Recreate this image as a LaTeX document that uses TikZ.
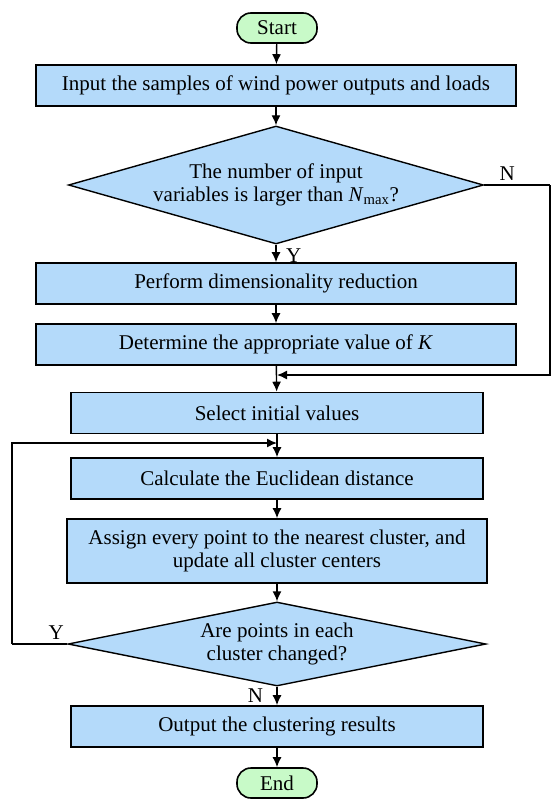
\documentclass[tikz,border=0pt]{standalone}
\usepackage{fontspec}
\setmainfont{Liberation Serif}
\usetikzlibrary{arrows.meta, shapes.geometric, calc}
\definecolor{boxblue}{RGB}{180,218,250}
\definecolor{termgreen}{RGB}{200,250,200}
\tikzset{
    my-box/.style={
        rectangle, draw, line width=1.6pt, fill=boxblue, inner sep=0pt,
        minimum height=41pt, align=center
    },
    my-term/.style={
        rectangle, draw, line width=1.6pt, fill=termgreen, rounded corners=14pt,
        minimum width=80pt, minimum height=30pt, inner sep=0pt
    },
    my-dec/.style={
        diamond, draw, line width=1.4pt, fill=boxblue, inner sep=0pt, align=center
    },
    my-line/.style={
        line width=1.4pt
    },
    my-arrow/.style={
        line width=1.4pt, -{Latex[length=10pt,width=9pt]}
    },
}

\begin{document}
\begin{tikzpicture}[x=1pt, y=-1pt, font=\fontsize{21}{23}\selectfont]

        \useasboundingbox (0,0) rectangle (552,800);

        % TERMINALS
        \node[my-term]  (START)  at (277,28)    {Start};
        \node[my-term]  (END)    at (277,783)   {End};

        % UPPER PART
        \node[my-box, minimum width=480pt]  (INPUT)   at (276,85.5)  {Input the samples of wind power outputs and loads};
        \node[my-dec, minimum width=415pt, minimum height=118pt, aspect=3.5]
                                            (DEC1)    at (276,185)   {The number of input\\variables is larger than \textit{N}\textsubscript{max}?};
        \node[my-box, minimum width=480pt]  (PERFORM) at (276,283.5) {Perform dimensionality reduction};
        \node[my-box, minimum width=480pt]  (DETERM)  at (276,344.5) {Determine the appropriate value of \textit{K}};

        % LOWER PART
        \node[my-box, minimum width=412pt]  (SELECT)  at (277,413)   {Select initial values};
        \node[my-box, minimum width=412pt]  (CALC)    at (277,478.5) {Calculate the Euclidean distance};
        \node[my-box, minimum width=420pt, minimum height=64pt]
                                            (ASSIGN)  at (277,551)   {Assign every point to the nearest cluster, and\\update all cluster centers};
        \node[my-dec, minimum width=418pt, minimum height=84pt, aspect=5]
                                            (DEC2)    at (277,644)   {Are points in each\\cluster changed?};
        \node[my-box, minimum width=412pt]  (OUTPUT)  at (277,726.5) {Output the clustering results};

        % LOOP CONNECTOR POINTS
        \coordinate (NRIGHT) at (550,185);
        \coordinate (NJOIN)  at (277,375);
        \coordinate (YLEFT)  at (12,644);
        \coordinate (YJOIN)  at (277,443);

        % MAIN FLOW
        \draw[my-arrow] (START)   -- (INPUT);
        \draw[my-arrow] (INPUT)   -- (DEC1);
        \draw[my-arrow] (DEC1)    -- node[right=6pt, pos=.6] {Y} (PERFORM);
        \draw[my-arrow] (PERFORM) -- (DETERM);
        \draw[my-arrow] (DETERM)  -- (SELECT);
        \draw[my-arrow] (SELECT)  -- (CALC);
        \draw[my-arrow] (CALC)    -- (ASSIGN);
        \draw[my-arrow] (ASSIGN)  -- (DEC2);
        \draw[my-arrow] (DEC2)    -- node[left=10pt, pos=.5] {N} (OUTPUT);
        \draw[my-arrow] (OUTPUT)  -- (END);

        % LOOPS
        \draw[my-line]  (DEC1.east) -- node[above, pos=.35] {N} (NRIGHT);
        \draw[my-arrow] (NRIGHT) |- (NJOIN);
        \draw[my-line]  (DEC2.west) -- node[above, pos=.2] {Y} (YLEFT);
        \draw[my-arrow] (YLEFT) |- (YJOIN);

    \end{tikzpicture}
\end{document}
